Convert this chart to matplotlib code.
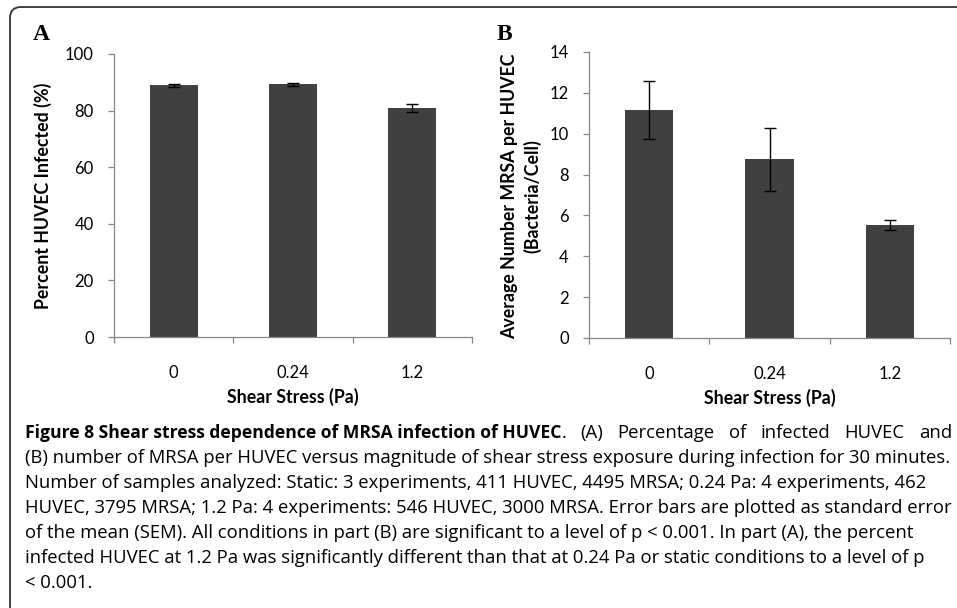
import matplotlib
matplotlib.use('Agg')
import matplotlib.pyplot as plt
from matplotlib.patches import FancyBboxPatch
from matplotlib.transforms import IdentityTransform
import numpy as np

# 데이터
shear = ['0', '0.24', '1.2']
pct_infected = [88.9, 89.3, 81.0]
pct_err = [0.4, 0.5, 1.4]
mrsa_per_cell = [11.15, 8.75, 5.55]
mrsa_err = [1.42, 1.55, 0.25]

caption_bold = 'Figure 8 Shear stress dependence of MRSA infection of HUVEC'
caption_lines = [
    '. (A) Percentage of infected HUVEC and',
    '(B) number of MRSA per HUVEC versus magnitude of shear stress exposure during infection for 30 minutes.',
    'Number of samples analyzed: Static: 3 experiments, 411 HUVEC, 4495 MRSA; 0.24 Pa: 4 experiments, 462',
    'HUVEC, 3795 MRSA; 1.2 Pa: 4 experiments: 546 HUVEC, 3000 MRSA. Error bars are plotted as standard error',
    'of the mean (SEM). All conditions in part (B) are significant to a level of p < 0.001. In part (A), the percent',
    'infected HUVEC at 1.2 Pa was significantly different than that at 0.24 Pa or static conditions to a level of p',
    '< 0.001.',
]

W, H = 957, 608
fig = plt.figure(figsize=(W / 100, H / 100), dpi=100)
fig.patch.set_facecolor('white')

# 테두리 (왼쪽 위 둥근 모서리)
frame = FancyBboxPatch((10, -60), 1100, H - 7 + 60,
                       boxstyle='round,pad=0,rounding_size=11',
                       transform=IdentityTransform(), fill=False,
                       edgecolor='#333333', linewidth=1.3)
fig.add_artist(frame)

bar_color = '#404040'
spine_color = '#868686'
tick_font = 'Lato'
label_size = 12.8


def style_axes(ax, ymax, ystep):
    x = np.arange(len(shear))
    ax.set_xlim(-0.5, len(shear) - 0.5)
    ax.set_ylim(0, ymax)
    ax.set_yticks(np.arange(0, ymax + 0.1, ystep))
    ax.set_xticks(x)
    ax.set_xticklabels(shear)
    ax.set_xticks(np.arange(-0.5, len(shear), 1.0), minor=True)
    for s in ['top', 'right']:
        ax.spines[s].set_visible(False)
    for s in ['left', 'bottom']:
        ax.spines[s].set_color(spine_color)
        ax.spines[s].set_linewidth(0.9)
    ax.tick_params(axis='x', which='major', length=0, pad=20, labelsize=12, colors='black')
    ax.tick_params(axis='x', which='minor', length=4.5, direction='out', color=spine_color, width=0.9)
    ax.tick_params(axis='y', which='major', length=4.5, direction='out', color=spine_color, width=0.9,
                   labelsize=12, pad=10)
    for lbl in ax.get_xticklabels() + ax.get_yticklabels():
        lbl.set_fontfamily(tick_font)
    ax.set_xlabel('Shear Stress (Pa)', fontfamily=tick_font, fontweight='bold',
                  fontsize=label_size, labelpad=5)


# A
axA = fig.add_axes([114 / W, 1 - 337 / H, 358 / W, 283 / H])
xA = np.arange(len(shear))
axA.bar(xA, pct_infected, width=0.4, color=bar_color, zorder=2)
axA.errorbar(xA, pct_infected, yerr=pct_err, fmt='none', ecolor='black',
             elinewidth=1, capsize=4.3, capthick=1, zorder=3)
style_axes(axA, 100, 20)
axA.set_ylabel('Percent HUVEC Infected (%)', fontfamily=tick_font, fontweight='bold', fontsize=label_size)
axA.yaxis.set_label_coords(52 / W, 1 - 196 / H, transform=fig.transFigure)

# B
axB = fig.add_axes([589 / W, 1 - 338 / H, 361 / W, 286 / H])
xB = np.arange(len(shear))
axB.bar(xB, mrsa_per_cell, width=0.4, color=bar_color, zorder=2)
axB.errorbar(xB, mrsa_per_cell, yerr=mrsa_err, fmt='none', ecolor='black',
             elinewidth=1, capsize=4.3, capthick=1, zorder=3)
style_axes(axB, 14, 2)
axB.set_ylabel('Average Number MRSA per HUVEC\n(Bacteria/Cell)', fontfamily=tick_font,
               fontweight='bold', fontsize=label_size, linespacing=1.35)
axB.yaxis.set_label_coords(541 / W, 1 - 196 / H, transform=fig.transFigure)

# 패널 라벨
fig.text(33 / W, 1 - 35 / H, 'A', fontfamily='Liberation Serif', fontweight='bold',
         fontsize=17, va='center', ha='left')
fig.text(497 / W, 1 - 35 / H, 'B', fontfamily='Liberation Serif', fontweight='bold',
         fontsize=17, va='center', ha='left')

# 캡션
cap_font = 'Open Sans'
cap_size = 13.35
x0 = 25 / W
y_first = 433
line_gap = 25.0
renderer = fig.canvas.get_renderer()
t = fig.text(x0, 1 - y_first / H, caption_bold, fontfamily=cap_font, fontweight='bold',
             fontsize=12.6, va='center', ha='left')
bb = t.get_window_extent(renderer=renderer)

# 첫 줄 나머지는 양쪽 정렬
words = caption_lines[0].split(' ')
word_texts = [fig.text(0, 1 - y_first / H, w, fontfamily=cap_font, fontsize=cap_size,
                       va='center', ha='left') for w in words]
widths = [wt.get_window_extent(renderer=renderer).width for wt in word_texts]
right_edge = 952
gap = (right_edge - bb.x1 - sum(widths)) / (len(words) - 1)
xpos = bb.x1
for wt, wd in zip(word_texts, widths):
    wt.set_x(xpos / W)
    xpos += wd + gap

for i, line in enumerate(caption_lines[1:], start=1):
    fig.text(x0, 1 - (y_first + i * line_gap) / H, line, fontfamily=cap_font,
             fontsize=cap_size, va='center', ha='left')

fig.savefig('out.png', dpi=100)
